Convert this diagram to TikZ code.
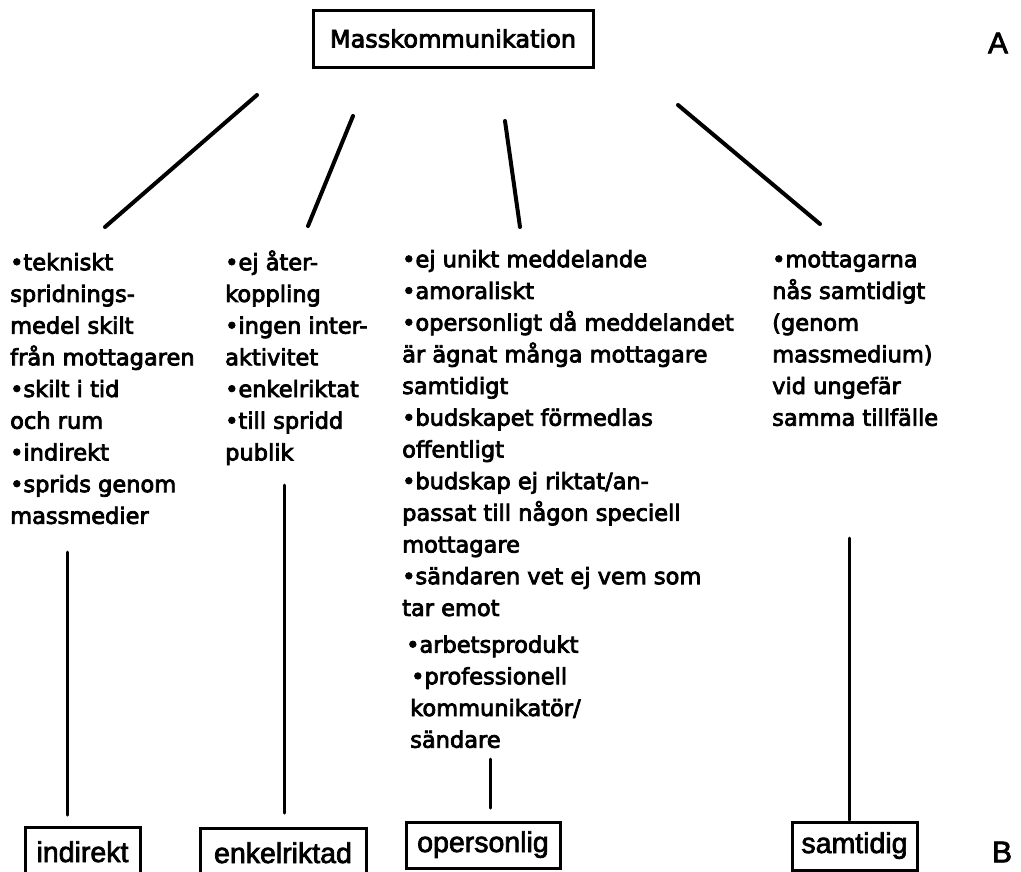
\documentclass[tikz,border=0pt]{standalone}
\usepackage{fontspec}
\setmainfont{DejaVu Sans}[FakeBold=3.5]
\newfontfamily\labelfont{Liberation Sans}[FakeBold=2.5]
\newcommand\bul{\scalebox{1.0}{•}}
\begin{document}
\begin{tikzpicture}[x=1pt,y=-1pt,
  line cap=round,
  coltext/.style={font=\fontsize{22.5}{31.7}\selectfont, anchor=north west,
    inner sep=0pt, align=left},
  branch/.style={line width=4pt},
  stem/.style={line width=3pt},
  catbox/.style={draw, line width=3pt, inner sep=0pt,
    font=\labelfont\fontsize{28.5}{30}\selectfont,
    text height=20pt, text depth=6pt},
  letter/.style={font=\labelfont\fontsize{30}{32}\selectfont, inner sep=0pt}
]
\useasboundingbox (0,0) rectangle (1021,871);

% top heading
\node[draw, line width=3pt, minimum width=280pt, minimum height=57pt,
  inner sep=0pt, font=\fontsize{24}{26}\selectfont] (top) at (453,38.5)
  {Masskommunikation};
\node[letter] (A) at (998,43) {A};

% four columns of properties
\node[coltext] (c1) at (10,250) {\rule{0pt}{20pt}\bul tekniskt\\
  spridnings-\\ medel skilt\\ från mottagaren\\ \bul skilt i tid\\
  och rum\\ \bul indirekt\\ \bul sprids genom\\ massmedier};
\node[coltext] (c2) at (225,250) {\rule{0pt}{20pt}\bul ej åter-\\
  koppling\\ \bul ingen inter-\\ aktivitet\\ \bul enkelriktat\\
  \bul till spridd\\ publik};
\node[coltext] (c3) at (402,247) {\rule{0pt}{20pt}\bul ej unikt meddelande\\
  \bul amoraliskt\\ \bul opersonligt då meddelandet\\
  är ägnat många mottagare\\ samtidigt\\ \bul budskapet förmedlas\\
  offentligt\\ \bul budskap ej riktat/an-\\ passat till någon speciell\\
  mottagare\\ \bul sändaren vet ej vem som\\ tar emot\\[5pt]
  \hspace*{4pt}\bul arbetsprodukt\\ \hspace*{9pt}\bul professionell\\
  \hspace*{8pt}kommunikatör/\\ \hspace*{8pt}sändare};
\node[coltext] (c4) at (772,247) {\rule{0pt}{20pt}\bul mottagarna\\
  nås samtidigt\\ (genom\\ massmedium)\\ vid ungefär\\ samma tillfälle};

% category boxes
\node[catbox, minimum width=115pt, minimum height=56pt] (b1) at (82.5,855) {indirekt};
\node[catbox, minimum width=166pt, minimum height=56pt] (b2) at (283,856) {enkelriktad};
\node[catbox, minimum width=154pt, minimum height=46pt] (b3) at (483,845) {opersonlig};
\node[catbox, minimum width=125pt, minimum height=48pt] (b4) at (854.5,846) {samtidig};
\node[letter] (B) at (1002,852) {B};

% branch lines from the heading
\coordinate (d1a) at (257,95);  \coordinate (d1b) at (105,227);
\coordinate (d2a) at (353,116); \coordinate (d2b) at (308,226);
\coordinate (d3a) at (505,121); \coordinate (d3b) at (520,227);
\coordinate (d4a) at (678,105); \coordinate (d4b) at (820,224);
\draw[branch] (d1a) -- (d1b);
\draw[branch] (d2a) -- (d2b);
\draw[branch] (d3a) -- (d3b);
\draw[branch] (d4a) -- (d4b);

% stems down to the boxes
\coordinate (s1a) at (67,552);  \coordinate (s1b) at (67,815);
\coordinate (s2a) at (284,485); \coordinate (s2b) at (284,813);
\coordinate (s3a) at (490,759); \coordinate (s3b) at (490,808);
\coordinate (s4a) at (849,538); \coordinate (s4b) at (849,820);
\draw[stem] (s1a) -- (s1b);
\draw[stem] (s2a) -- (s2b);
\draw[stem] (s3a) -- (s3b);
\draw[stem] (s4a) -- (s4b);
\end{tikzpicture}
\end{document}
